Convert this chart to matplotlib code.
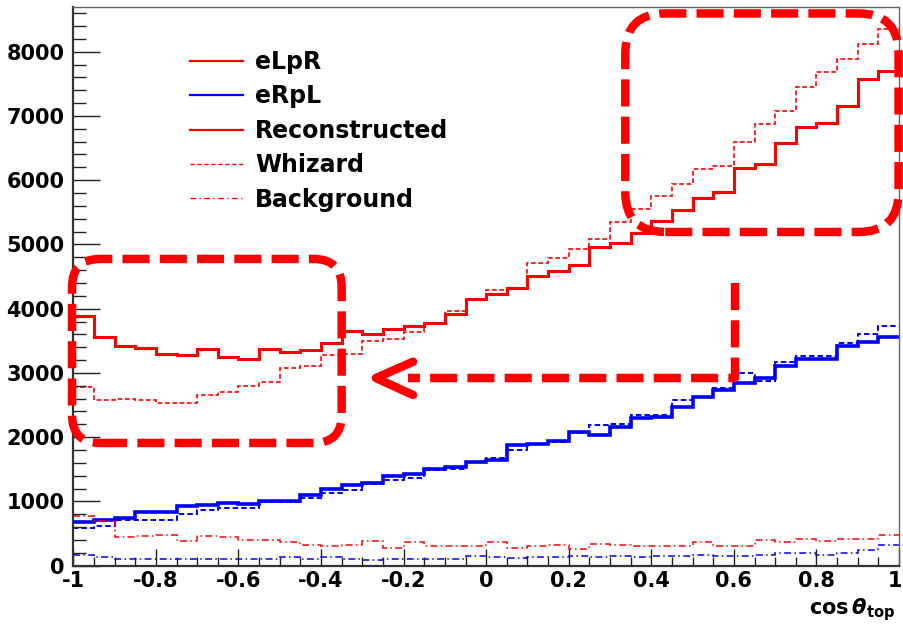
import numpy as np
import matplotlib
matplotlib.use('Agg')
import matplotlib.pyplot as plt
from matplotlib.lines import Line2D
from matplotlib.patches import FancyBboxPatch
from matplotlib.path import Path
from matplotlib.patches import PathPatch
from matplotlib.transforms import IdentityTransform, ScaledTranslation
from matplotlib.ticker import MultipleLocator, FixedLocator, FixedFormatter

plt.rcParams['font.family'] = ['DejaVu Sans']
plt.rcParams['font.weight'] = 'bold'
plt.rcParams['axes.unicode_minus'] = False

# cos(theta_top) histograms, 40 bins between -1 and 1
bin_edges = np.linspace(-1, 1, 41)

elpr_reco = [3888, 3557, 3421, 3395, 3302, 3281, 3380, 3255, 3219, 3375,
             3333, 3359, 3463, 3655, 3612, 3681, 3728, 3770, 3920, 4154,
             4235, 4328, 4510, 4585, 4686, 4960, 5030, 5174, 5360, 5536,
             5718, 5821, 6185, 6252, 6573, 6832, 6894, 7154, 7579, 7693]
elpr_whizard = [2779, 2582, 2602, 2582, 2530, 2530, 2649, 2696, 2789, 2866,
                3074, 3110, 3278, 3290, 3498, 3525, 3638, 3770, 3965, 4154,
                4291, 4328, 4707, 4795, 4925, 5090, 5350, 5552, 5759, 5946,
                6169, 6226, 6589, 6869, 7076, 7444, 7678, 7885, 8123, 8351]
erpl_reco = [679, 715, 741, 835, 835, 923, 949, 975, 953, 1011,
             1011, 1093, 1197, 1249, 1286, 1395, 1431, 1509, 1530, 1620,
             1649, 1871, 1897, 1939, 2079, 2037, 2157, 2297, 2312, 2468,
             2624, 2737, 2841, 2919, 3115, 3214, 3214, 3426, 3488, 3566]
erpl_whizard = [580, 622, 715, 705, 705, 804, 871, 891, 891, 991,
                991, 1053, 1131, 1171, 1265, 1327, 1364, 1493, 1504, 1613,
                1675, 1793, 1897, 1918, 2064, 2193, 2208, 2348, 2348, 2582,
                2633, 2764, 3006, 2882, 3177, 3270, 3270, 3473, 3603, 3737]
elpr_bkg = [767, 689, 440, 456, 482, 378, 456, 446, 404, 404,
            363, 327, 300, 327, 378, 275, 363, 300, 300, 300,
            363, 275, 300, 316, 259, 342, 316, 310, 310, 310,
            363, 300, 300, 394, 363, 415, 378, 415, 415, 482]
erpl_bkg = [160, 135, 104, 104, 104, 104, 104, 104, 104, 104,
            130, 110, 135, 104, 93, 110, 104, 110, 104, 155,
            140, 120, 140, 130, 150, 130, 150, 140, 150, 145,
            160, 150, 150, 170, 197, 197, 170, 200, 249, 316]

legend_labels = ['eLpR', 'eRpL', 'Reconstructed', 'Whizard', 'Background']
x_ticks = [-1, -0.8, -0.6, -0.4, -0.2, 0, 0.2, 0.4, 0.6, 0.8, 1]
x_tick_labels = ['-1', '-0.8', '-0.6', '-0.4', '-0.2', '0', '0.2', '0.4', '0.6', '0.8', '1']
y_ticks = [0, 1000, 2000, 3000, 4000, 5000, 6000, 7000, 8000]

RED = '#ff0000'
BLUE = '#0000ff'
DASHED = (0, (2.8, 1.6))
DASHDOT = (0, (4.5, 2.2, 1.0, 2.2))

W, H = 904, 628
fig = plt.figure(figsize=(W / 100, H / 100), dpi=100)
ax = fig.add_axes([73.3 / W, (H - 565.7) / H, (899 - 73.3) / W, (565.7 - 6.7) / H])

ax.stairs(elpr_reco, bin_edges, baseline=None, color=RED, lw=2.2)
ax.stairs(elpr_whizard, bin_edges, baseline=None, color=RED, lw=1.2, linestyle=DASHED)
ax.stairs(erpl_reco, bin_edges, baseline=None, color=BLUE, lw=2.6)
ax.stairs(erpl_whizard, bin_edges, baseline=None, color=BLUE, lw=1.4, linestyle=DASHED)
ax.stairs(elpr_bkg, bin_edges, baseline=None, color=RED, lw=1.1, linestyle=DASHDOT)
ax.stairs(erpl_bkg, bin_edges, baseline=None, color=BLUE, lw=1.1, linestyle=DASHDOT)

ax.set_xlim(-1, 1)
ax.set_ylim(0, 8700)

ax.xaxis.set_major_locator(FixedLocator(x_ticks))
ax.xaxis.set_major_formatter(FixedFormatter(x_tick_labels))
ax.xaxis.set_minor_locator(MultipleLocator(0.05))
ax.yaxis.set_major_locator(FixedLocator(y_ticks))
ax.yaxis.set_minor_locator(MultipleLocator(200))

ax.tick_params(axis='both', which='both', direction='in', width=1.0, color='#222222',
               top=False, right=False, labelsize=15)
ax.tick_params(axis='y', which='major', length=19.5, pad=6.5)
ax.tick_params(axis='y', which='minor', length=9.4)
ax.tick_params(axis='x', which='major', length=12.5, pad=4)
ax.tick_params(axis='x', which='minor', length=6.5)
for lab in ax.get_xticklabels() + ax.get_yticklabels():
    lab.set_fontweight('bold')
# keep the last x label inside the canvas
last = ax.get_xticklabels()[-1]
last.set_transform(last.get_transform() + ScaledTranslation(-4 / 100, 0, fig.dpi_scale_trans))

for side in ('left', 'bottom'):
    ax.spines[side].set_linewidth(1.6)
    ax.spines[side].set_color('#333333')
for side in ('top', 'right'):
    ax.spines[side].set_linewidth(1.0)
    ax.spines[side].set_color('#666666')

ax.text(0.995, -0.088, r'$\mathbf{cos}\,\theta_{\mathbf{top}}$', transform=ax.transAxes,
        ha='right', va='baseline', fontsize=15)

handles = [
    Line2D([], [], color=RED, lw=1.6),
    Line2D([], [], color=BLUE, lw=1.6),
    Line2D([], [], color=RED, lw=1.6),
    Line2D([], [], color=RED, lw=1.0, linestyle=(0, (3, 2))),
    Line2D([], [], color=RED, lw=1.0, linestyle=(0, (4, 2.5, 1, 2.5))),
]
ax.legend(handles, legend_labels, loc='upper left', bbox_to_anchor=(190 / W, (H - 50) / H),
          bbox_transform=fig.transFigure, frameon=False, borderpad=0, borderaxespad=0,
          handlelength=2.25, handletextpad=0.5, labelspacing=0.44,
          prop={'weight': 'bold', 'size': 17})

# highlight boxes and arrow, given in data units and drawn in pixels
BOX_LW = 6.1
BOX_STYLE = (0, (3.2, 1.2))
boxes = [((-1.003, 1910), (-0.350, 4774), 28),
         ((0.337, 5194), (0.999, 8595), 40)]
for (x0, y0), (x1, y1), radius in boxes:
    (px0, py0), (px1, py1) = ax.transData.transform([(x0, y0), (x1, y1)])
    box = FancyBboxPatch((px0, py0), px1 - px0, py1 - py0,
                         boxstyle=f'round,pad=0,rounding_size={radius}',
                         transform=IdentityTransform(), fill=False, edgecolor=RED,
                         lw=BOX_LW, linestyle=BOX_STYLE, capstyle='butt', clip_on=False)
    fig.add_artist(box)

arrow_path = [(0.603, 4400), (0.603, 2921), (-0.190, 2921)]
arrow_head = [(-0.177, 3175), (-0.267, 2921), (-0.177, 2657)]
shaft = ax.transData.transform(arrow_path)
fig.add_artist(PathPatch(Path(shaft), transform=IdentityTransform(), fill=False,
                         edgecolor=RED, lw=BOX_LW, linestyle=BOX_STYLE,
                         capstyle='butt', joinstyle='round'))
head = ax.transData.transform(arrow_head)
fig.add_artist(PathPatch(Path(head), transform=IdentityTransform(), fill=False,
                         edgecolor=RED, lw=BOX_LW, capstyle='round', joinstyle='round'))

plt.savefig('out.png', dpi=100)
